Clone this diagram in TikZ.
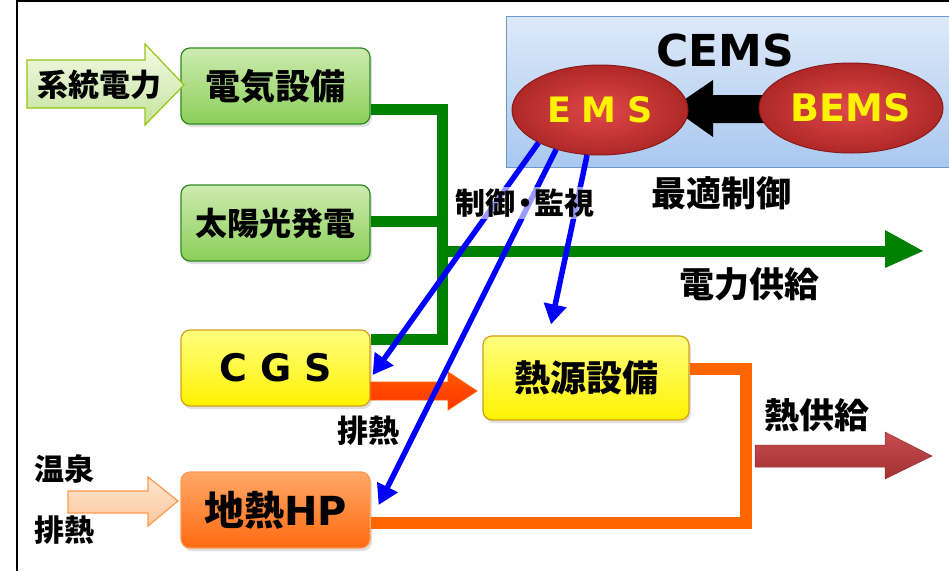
\documentclass[tikz,border=0pt]{standalone}
\usepackage{fontspec}
\setmainfont{DejaVu Sans}
\newfontfamily\jp{Noto Sans CJK JP}
\newfontfamily\lat{DejaVu Sans}
\usetikzlibrary{shapes.geometric,arrows.meta,calc,shadows}
\definecolor{gline}{HTML}{008000}
\definecolor{oline}{HTML}{FF6600}
\definecolor{bline}{HTML}{0000FF}
\definecolor{gtop}{HTML}{CDEBB0}
\definecolor{gbot}{HTML}{8ACF58}
\definecolor{gedge}{HTML}{2E8B22}
\definecolor{ytop}{HTML}{FFFF80}
\definecolor{ybot}{HTML}{FFF200}
\definecolor{yedge}{HTML}{D4A017}
\definecolor{otop}{HTML}{FFA868}
\definecolor{obot}{HTML}{FF6A10}
\definecolor{oedge}{HTML}{FF9A50}
\definecolor{ctop}{HTML}{DDE9F9}
\definecolor{cbot}{HTML}{A9C8F0}
\definecolor{cedge}{HTML}{6F96C8}
\definecolor{rin}{HTML}{E04848}
\definecolor{rout}{HTML}{B02828}
\definecolor{redge}{HTML}{8B1A1A}
\definecolor{hsup}{HTML}{C0393B}
\definecolor{sptop}{HTML}{FEE6D2}
\definecolor{spbot}{HTML}{FBC79A}
\definecolor{grtop}{HTML}{F4FAE8}
\definecolor{grbot}{HTML}{C4E39C}
\newcommand{\J}[1]{\jp\bfseries\fontsize{#1}{#1}\selectfont}
\newcommand{\Lt}[1]{\lat\bfseries\fontsize{#1}{#1}\selectfont}
\tikzset{
  boxbase/.style={rounded corners=9pt, line width=1.2pt, minimum height=76pt,
    drop shadow={shadow xshift=2pt, shadow yshift=-3pt, opacity=0.25}},
  greenbox/.style={boxbase, draw=gedge, top color=gtop, bottom color=gbot, minimum width=189pt},
  yellowbox/.style={boxbase, draw=yedge, top color=ytop, bottom color=ybot, minimum width=189pt},
  orangebox/.style={boxbase, draw=oedge, top color=otop, bottom color=obot, minimum width=189pt},
  redell/.style={ellipse, draw=redge, line width=1pt, inner color=rin, outer color=rout},
  gwire/.style={draw=gline, line width=11pt},
  owire/.style={draw=oline, line width=12pt},
  ctrl/.style={draw=bline, line width=5.5pt, -{Triangle[length=20pt,width=22pt]}},
}
\begin{document}
\begin{tikzpicture}[x=1pt,y=-1pt]
\useasboundingbox (0,0) rectangle (949,571);
% frame
\draw[line width=2pt] (17,571) -- (17,1) -- (949,1);
% CEMS panel
\draw[cedge, line width=1pt, top color=ctop, bottom color=cbot] (506,16) rectangle (965,167);
\node[font=\Lt{44}] (cems) at (725,50) {CEMS};
% black arrow BEMS -> EMS
\fill[black] (850,95) -- (713,95) -- (713,80) -- (672,108) -- (713,137) -- (713,123) -- (850,123) -- cycle;
\node[redell, minimum width=176pt, minimum height=90pt] (ems) at (600,110) {};
\node[font=\Lt{35}, text=yellow] at (ems) {E\kern0.3em M\kern0.3em S};
\node[redell, minimum width=184pt, minimum height=90pt] (bems) at (851,108) {};
\node[font=\Lt{38}, text=yellow] at (bems) {BEMS};
\node[font=\J{35}] (opt) at (721,193) {最適制御};
% boxes
\node[greenbox] (elec) at (275.5,86) {};
\node[font=\J{35}] at (elec) {電気設備};
\node[greenbox] (solar) at (275.5,223) {};
\node[font=\J{32}] at (solar) {太陽光発電};
\node[yellowbox] (cgs) at (275.5,368) {};
\node[font=\Lt{38}] at (cgs) {C\,\,G\,\,S};
\node[yellowbox, minimum width=206pt, minimum height=84pt] (heat) at (586,378) {};
\node[font=\J{36}] at (heat) {熱源設備};
\node[orangebox] (geo) at (275.5,510) {};
\node[font=\J{40}] at (geo) {地熱{\Lt{40}HP}};
% grid power arrow
\draw[draw=gedge!50!yellow, line width=1.2pt, top color=grtop, bottom color=grbot]
  (27,60) -- (145,60) -- (145,44) -- (184,85) -- (145,125) -- (145,108) -- (27,108) -- cycle;
\node[font=\J{31}] (grid) at (99,85) {系統電力};
% green wiring
\draw[gwire] (elec.east |- 0,109) -- (442,109);
\draw[gwire] (solar.east |- 0,221) -- (442,221);
\draw[gwire] (cgs.east |- 0,339) -- (442,339);
\draw[gwire] (442,103.5) -- (442,344.5);
\draw[gwire] (436.5,251) -- (886,251);
\fill[gline] (885,230) -- (923,251) -- (885,268) -- cycle;
\node[font=\J{35}] (psup) at (749,284) {電力供給};
% CGS exhaust heat arrow
\draw[draw=orange!80!red, line width=0.8pt, top color=orange!70!red, bottom color=red!60!orange]
  (cgs.east |- 0,382) -- (448,382) -- (448,372) -- (477,391) -- (448,410) -- (448,400) -- (cgs.east |- 0,400) -- cycle;
\node[font=\J{31}] (exh1) at (368,431) {排熱};
% hot spring arrow
\draw[draw=oedge, line width=1.2pt, top color=sptop, bottom color=spbot]
  (68,491) -- (148,491) -- (148,477) -- (178,501) -- (148,526) -- (148,513) -- (68,513) -- cycle;
\node[font=\J{30}] (spring) at (64,469) {温泉};
\node[font=\J{30}] (exh2) at (64,530) {排熱};
% orange wiring
\draw[owire] (heat.east |- 0,369) -- (746,369);
\draw[owire] (geo.east |- 0,523) -- (746,523);
\draw[owire] (746,363) -- (746,529);
% heat supply arrow
\draw[draw=hsup!80!black, line width=0.5pt, top color=hsup!90!white, bottom color=hsup!85!black]
  (755,445) -- (885,445) -- (885,432) -- (932,456) -- (885,479) -- (885,467) -- (755,467) -- cycle;
\node[font=\J{35}] (hsupl) at (817,415) {熱供給};
% control arrows
\draw[ctrl] (ems.208) -- ($(cgs.east)+(2,7)$);
\draw[ctrl] (ems.222) -- ($(geo.east)+(8,-5)$);
\draw[ctrl] (ems.254) -- ($(heat.north)+(-35,-11)$);
\node[font=\J{30}, fill=white, fill opacity=0.6, text opacity=1, inner sep=2pt] (ctl) at (525,203) {制御{\kern-0.18em}・{\kern-0.18em}監視};
\end{tikzpicture}
\end{document}
